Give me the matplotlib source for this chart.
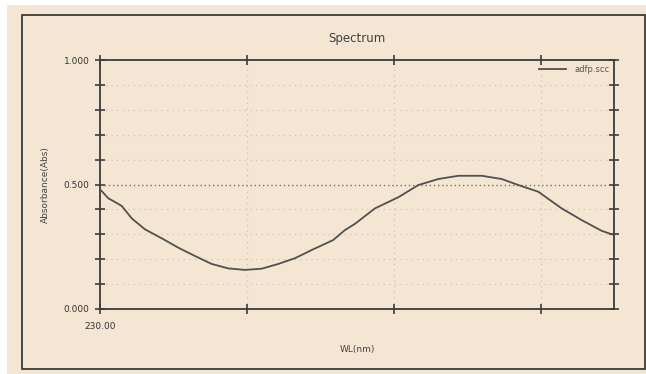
import matplotlib
matplotlib.use("Agg")
import matplotlib.pyplot as plt
from matplotlib.patches import Rectangle
from matplotlib.ticker import MultipleLocator, FixedLocator

# spectrum
wl = [230.0, 232.8, 237.4, 240.8, 245.3, 251.0, 256.7, 262.3, 268.0, 273.7,
      279.4, 285.1, 290.7, 296.4, 302.1, 309.4, 313.4, 316.8, 323.6, 331.6,
      338.4, 345.2, 352.0, 360.0, 366.8, 372.4, 379.2, 387.2, 394.0, 400.8, 405.0]
absorb = [0.481, 0.445, 0.414, 0.364, 0.320, 0.284, 0.246, 0.213, 0.181, 0.163,
          0.157, 0.162, 0.181, 0.204, 0.237, 0.277, 0.317, 0.342, 0.404, 0.449,
          0.498, 0.522, 0.535, 0.535, 0.522, 0.498, 0.471, 0.404, 0.357, 0.314, 0.297]
x_ticks = [230, 280, 330, 380]
x_labels = ["230.00", "", "", ""]
y_labels = {0.0: "0.000", 0.5: "0.500", 1.0: "1.000"}

BG = "#f5e6d4"
INK = "#3c3c3c"
W, H = 646, 374

fig = plt.figure(figsize=(W / 100, H / 100), dpi=100, facecolor="white")

# beige screenshot panel and its outer frame
fig.add_artist(Rectangle((7 / W, 0), 1, 1 - 5 / H, transform=fig.transFigure,
                         facecolor=BG, edgecolor="none", zorder=0))
fig.add_artist(Rectangle((22 / W, 1 - 369 / H), (645 - 22) / W, (369 - 15) / H,
                         transform=fig.transFigure, facecolor="none",
                         edgecolor=INK, lw=1.3, zorder=1))

ax = fig.add_axes([100 / W, 1 - 309 / H, (614 - 100) / W, (309 - 60) / H])
ax.set_facecolor(BG)
ax.set_xlim(230, 405)
ax.set_ylim(0, 1)

ax.plot(wl, absorb, color="#505050", lw=1.3, label="adfp.scc", zorder=3)

# faint dotted grid + darker 0.5 line
for v in [0.1, 0.2, 0.3, 0.4, 0.6, 0.7, 0.8, 0.9]:
    ax.axhline(v, color="#c9bcae", lw=0.8, ls=(0, (1, 4)), zorder=1)
for x in x_ticks[1:]:
    ax.axvline(x, color="#c9bcae", lw=0.8, ls=(0, (1, 4)), zorder=1)
ax.axhline(0.5, color="#777270", lw=1.0, ls=(0, (1, 2)), zorder=2)

for s in ax.spines.values():
    s.set_color(INK)
    s.set_linewidth(1.3)

ax.yaxis.set_major_locator(FixedLocator(list(y_labels)))
ax.set_yticklabels(list(y_labels.values()))
ax.yaxis.set_minor_locator(MultipleLocator(0.1))
ax.xaxis.set_major_locator(FixedLocator(x_ticks))
ax.set_xticklabels(x_labels)
ax.tick_params(axis="y", which="both", direction="inout", length=7, width=1.2,
               color=INK, right=True, labelsize=6.5, labelcolor="#333333", pad=4)
ax.tick_params(axis="x", which="both", direction="inout", length=7, width=1.2,
               color=INK, top=True, labelsize=6.5, labelcolor="#333333", pad=6)

ax.set_title("Spectrum", fontsize=8.5, color="#404040", pad=13)
ax.set_xlabel("WL(nm)", fontsize=6.5, color="#444444", labelpad=10)
ax.set_ylabel("Absorbance(Abs)", fontsize=6.5, color="#444444", labelpad=10)

ax.legend(loc="upper right", frameon=False, fontsize=6, labelcolor="#555555",
          handlelength=3.2, handletextpad=1.0, borderaxespad=0.15)

fig.savefig("out.png", dpi=100, facecolor="white")
